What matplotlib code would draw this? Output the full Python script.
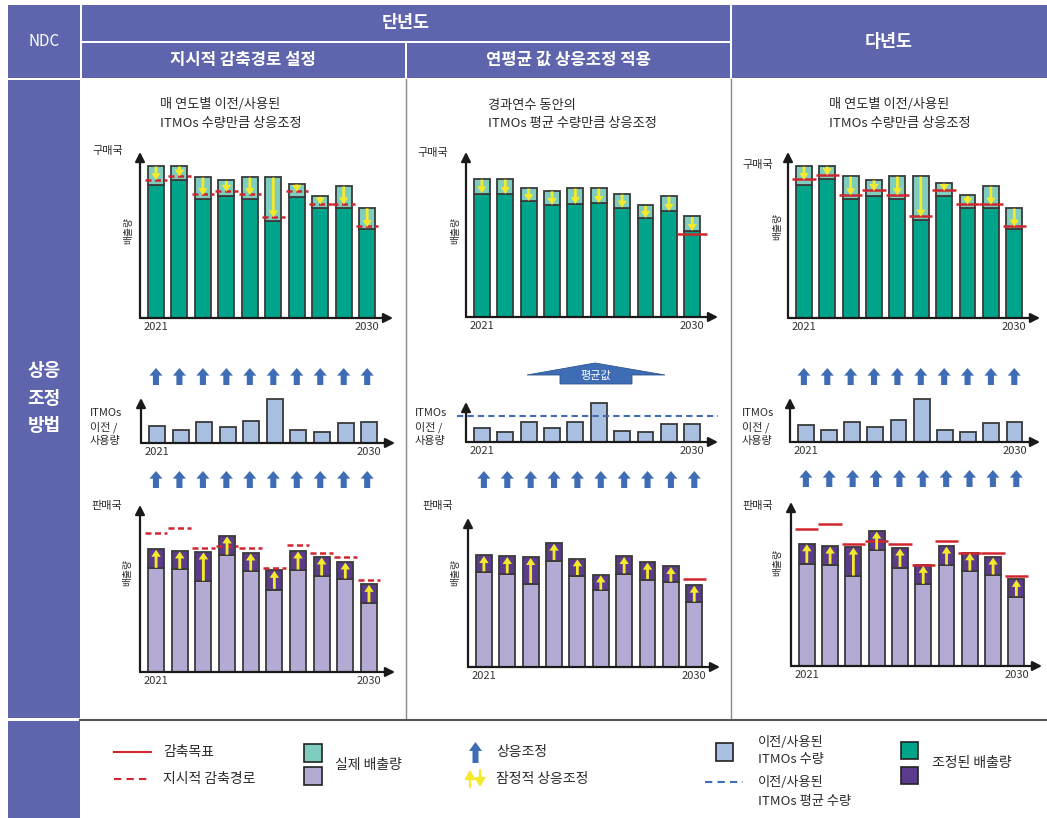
import matplotlib
matplotlib.use('Agg')
import numpy as np
import matplotlib.pyplot as plt
from matplotlib.patches import Rectangle, Polygon

plt.rcParams['font.family'] = ['Noto Sans CJK KR', 'DejaVu Sans']

# ---- data (arbitrary emission units, read per chart) ----
years = ['2021', '2030']
idx = np.arange(10)

# 단년도 / 지시적 감축경로 설정
p1_buy_actual = [458, 458, 425, 415, 425, 425, 404, 367, 398, 332]
p1_buy_adjusted = [400, 415, 359, 367, 359, 292, 365, 331, 331, 269]
p1_buy_path = [417, 428, 372, 382, 372, 305, 382, 344, 344, 276]
itmo_used = [52, 38, 62, 47, 66, 131, 38, 32, 59, 62]
p1_sell_actual = [310, 307, 271, 349, 302, 247, 305, 287, 278, 207]
p1_sell_adjusted = [368, 363, 360, 408, 357, 305, 363, 345, 330, 263]
p1_sell_path = [415, 430, 370, 378, 370, 312, 380, 355, 343, 275]

# 단년도 / 연평균 값 상응조정 적용
p2_buy_actual = [414, 414, 387, 379, 387, 387, 369, 335, 363, 302]
p2_buy_adjusted = [370, 368, 347, 335, 338, 341, 327, 296, 317, 257]
p2_buy_target_2030 = 248
p2_itmo = [44, 29, 60, 44, 60, 120, 35, 32, 56, 56]
p2_itmo_avg = 78
p2_sell_actual = [285, 279, 250, 319, 274, 230, 279, 262, 254, 194]
p2_sell_adjusted = [335, 332, 329, 372, 325, 277, 332, 315, 302, 246]
p2_sell_target_2030 = 264

# 다년도
p3_buy_actual = [456, 456, 426, 415, 426, 426, 405, 368, 396, 330]
p3_buy_adjusted = [400, 416, 358, 366, 358, 293, 365, 331, 331, 267]
p3_buy_target = [416, 430, 370, 383, 370, 306, 383, 342, 342, 276]
p3_sell_actual = [308, 305, 270, 348, 296, 245, 303, 285, 273, 208]
p3_sell_adjusted = [368, 361, 358, 406, 355, 303, 361, 341, 328, 261]
p3_sell_target = [413, 428, 368, 376, 368, 305, 376, 341, 341, 271]

# colours
HEAD = '#5F65AD'
TEAL = '#00A48B'
TEAL_L = '#7FCDBF'
PURP_L = '#B4AAD3'
PURP_D = '#5B3C8C'
ITMO = '#A9C0E2'
BLUE = '#3E6DB5'
RED = '#D0262E'
YEL = '#F4E92B'
EDGE = '#3A3A3A'
TXT = '#2a2a2a'

W, H = 1047, 818
fig = plt.figure(figsize=(W / 100, H / 100), dpi=100)

bg = fig.add_axes([0, 0, 1, 1])
bg.set_xlim(0, W)
bg.set_ylim(H, 0)
bg.axis('off')


def add_px_axes(x0, y_top, x1, y_base):
    return fig.add_axes([x0 / W, 1 - y_base / H, (x1 - x0) / W, (y_base - y_top) / H])


def rect(x0, y0, x1, y1, **kw):
    bg.add_patch(Rectangle((x0, y0), x1 - x0, y1 - y0, **kw))


def t(x, y, s, **kw):
    kw.setdefault('color', TXT)
    kw.setdefault('va', 'center')
    bg.text(x, y, s, **kw)


# ---- header and frame ----
for x0, y0, x1, y1 in [(8, 5, 80, 78), (82, 5, 730, 41), (82, 43, 405, 78),
                       (407, 43, 730, 78), (732, 5, 1047, 78),
                       (8, 80, 80, 718), (8, 721, 80, 818)]:
    rect(x0, y0, x1, y1, facecolor=HEAD, edgecolor='none')

t(44, 42, 'NDC', color='white', ha='center', fontsize=11)
t(406, 23, '단년도', color='white', ha='center', fontsize=12.5, fontweight='bold')
t(243, 60, '지시적 감축경로 설정', color='white', ha='center', fontsize=12, fontweight='bold')
t(568, 60, '연평균 값 상응조정 적용', color='white', ha='center', fontsize=12, fontweight='bold')
t(889, 42, '다년도', color='white', ha='center', fontsize=12.5, fontweight='bold')
t(44, 398, '상응\n조정\n방법', color='white', ha='center', fontsize=13,
  fontweight='bold', linespacing=1.55)

bg.plot([406, 406], [79, 719], color='#8a8a8a', lw=1)
bg.plot([731, 731], [79, 719], color='#8a8a8a', lw=1)
bg.plot([80, W], [720, 720], color='#555555', lw=1.5)

# panel titles
t(160, 105, '매 연도별 이전/사용된', fontsize=9.5)
t(160, 124, 'ITMOs 수량만큼 상응조정', fontsize=9.5)
t(488, 105, '경과연수 동안의', fontsize=9.5)
t(488, 124, 'ITMOs 평균 수량만큼 상응조정', fontsize=9.5)
t(829, 105, '매 연도별 이전/사용된', fontsize=9.5)
t(829, 124, 'ITMOs 수량만큼 상응조정', fontsize=9.5)

XL = (-0.68, 10.1)
BW = 0.68


def chart(x0, ytop, x1, ybase, ymax):
    ax = add_px_axes(x0, ytop, x1, ybase)
    ax.set_xlim(*XL)
    ax.set_ylim(0, ymax)
    for s in ax.spines.values():
        s.set_visible(False)
    ax.set_yticks([])
    ax.set_xticks([0, 9], years)
    ax.tick_params(axis='x', length=0, pad=3, labelsize=8, labelcolor='#333333')
    ax.patch.set_alpha(0)
    ap = dict(arrowstyle='-|>,head_length=0.55,head_width=0.28', color='#1a1a1a',
              lw=1.6, shrinkA=0, shrinkB=0)
    ax.annotate('', xy=(1.0, 0), xytext=(0, 0), xycoords='axes fraction', arrowprops=ap,
                annotation_clip=False)
    ax.annotate('', xy=(0, 1.0), xytext=(0, 0), xycoords='axes fraction', arrowprops=ap,
                annotation_clip=False)
    return ax


def yellow(ax, x, y0, y1, hl_px=7):
    ppu = ax.get_position().height * H / ax.get_ylim()[1]
    ax.arrow(x, y0, 0, y1 - y0, width=0.12, head_width=0.4, head_length=hl_px / ppu,
             length_includes_head=True, color=YEL, lw=0, zorder=5)


def stack(ax, low, high, c_low, c_high):
    low = np.array(low)
    high = np.array(high)
    ax.bar(idx, low, BW, color=c_low, edgecolor=EDGE, lw=1.3, zorder=2)
    ax.bar(idx, high - low, BW, bottom=low, color=c_high, edgecolor=EDGE, lw=1.3, zorder=2)


def marks(ax, vals, style, half=0.48, which=None):
    which = range(10) if which is None else which
    for i in which:
        ax.plot([i - half, i + half], [vals[i], vals[i]], color=RED, lw=1.8,
                linestyle=style, zorder=4, solid_capstyle='butt', dash_capstyle='butt')


DASH = (0, (2.4, 1.4))


def arrow_row(x0, ytop, x1, ybase, which=range(10)):
    ax = add_px_axes(x0, ytop, x1, ybase)
    ax.set_xlim(*XL)
    ax.set_ylim(0, 1)
    ax.axis('off')
    for i in which:
        ax.arrow(i, 0, 0, 1, width=0.26, head_width=0.56, head_length=0.45,
                 length_includes_head=True, color=BLUE, lw=0)


def itmo_chart(x0, ytop, x1, ybase, ymax, vals):
    ax = chart(x0, ytop, x1, ybase, ymax)
    ax.bar(idx, vals, BW, color=ITMO, edgecolor=EDGE, lw=1.3, zorder=2)
    return ax


# ---- panel 1 ----
ax = chart(140, 152, 393, 318, 500)
stack(ax, p1_buy_adjusted, p1_buy_actual, TEAL, TEAL_L)
marks(ax, p1_buy_path, DASH)
for i in idx:
    yellow(ax, i, p1_buy_actual[i] - 2, p1_buy_path[i] - 2)

arrow_row(140, 368, 393, 385)
itmo_chart(141, 398, 395, 443, 135, itmo_used)
arrow_row(140, 471, 393, 488)

ax = chart(140, 505, 395, 672, 500)
stack(ax, p1_sell_actual, p1_sell_adjusted, PURP_L, PURP_D)
marks(ax, p1_sell_path, DASH)
for i in idx:
    yellow(ax, i, p1_sell_actual[i] + 2, p1_sell_adjusted[i] - 2)

# ---- panel 2 ----
ax = chart(466, 152, 718, 317, 495)
stack(ax, p2_buy_adjusted, p2_buy_actual, TEAL, TEAL_L)
marks(ax, [0] * 9 + [p2_buy_target_2030], '-', half=0.65, which=[9])
for i in idx:
    yellow(ax, i, p2_buy_actual[i] - 2, p2_buy_adjusted[i] + 1)

bg.add_patch(Polygon([(527, 375), (595, 363), (665, 375), (632, 375), (632, 384),
                      (560, 384), (560, 375)], closed=True, facecolor=BLUE,
                     edgecolor='#2d558f', lw=0.6))
t(596, 376, '평균값', color='white', ha='center', fontsize=8)

ax = itmo_chart(466, 402, 718, 442, 122, p2_itmo)
ax.plot([-0.035, 1.0], [p2_itmo_avg, p2_itmo_avg], transform=ax.get_yaxis_transform(),
        color=BLUE, lw=1.5, linestyle=(0, (3, 2)), clip_on=False, zorder=3)
arrow_row(468, 471, 720, 488)

ax = chart(468, 518, 720, 667, 447)
stack(ax, p2_sell_actual, p2_sell_adjusted, PURP_L, PURP_D)
marks(ax, [0] * 9 + [p2_sell_target_2030], '-', half=0.5, which=[9])
for i in idx:
    yellow(ax, i, p2_sell_actual[i] + 2, p2_sell_adjusted[i] - 2)

# ---- panel 3 ----
ax = chart(788, 152, 1040, 318, 498)
stack(ax, p3_buy_adjusted, p3_buy_actual, TEAL, TEAL_L)
marks(ax, p3_buy_target, '-', half=0.5)
for i in idx:
    yellow(ax, i, p3_buy_actual[i] - 2, p3_buy_target[i] - 2)

arrow_row(788, 368, 1040, 385)
itmo_chart(790, 398, 1040, 442, 135, itmo_used)
arrow_row(790, 470, 1042, 487)

ax = chart(791, 502, 1042, 666, 493)
stack(ax, p3_sell_actual, p3_sell_adjusted, PURP_L, PURP_D)
marks(ax, p3_sell_target, '-', half=0.5)
for i in idx:
    yellow(ax, i, p3_sell_actual[i] + 2, p3_sell_adjusted[i] - 2)

# ---- axis captions ----
for x, y in [(108, 151), (433, 153), (758, 165)]:
    t(x, y, '구매국', ha='center', fontsize=8)
for x, y in [(107, 506), (438, 506), (758, 506)]:
    t(x, y, '판매국', ha='center', fontsize=8)
for x, y in [(128, 230), (455, 230), (777, 227), (127, 572), (455, 573), (777, 562)]:
    t(x, y, '배출량', ha='center', fontsize=7, rotation=90)
for x in (90, 415, 742):
    t(x, 413, 'ITMOs', fontsize=8)
    t(x, 427, '이전 /', fontsize=8)
    t(x, 441, '사용량', fontsize=8)

# ---- legend ----
bg.plot([114, 151], [752, 752], color=RED, lw=1.5)
t(163, 752, '감축목표', fontsize=10)
bg.plot([114, 151], [779, 779], color=RED, lw=1.5, linestyle=(0, (3.5, 2.5)))
t(163, 779, '지시적 감축경로', fontsize=10)

rect(304, 744, 322, 762, facecolor=TEAL_L, edgecolor='#222222', lw=1.2)
rect(304, 767, 322, 785, facecolor=PURP_L, edgecolor='#222222', lw=1.2)
t(335, 765, '실제 배출량', fontsize=10)

bg.add_patch(Polygon([(469, 751), (475.5, 742), (482, 751), (478.5, 751), (478.5, 763),
                      (472.5, 763), (472.5, 751)], closed=True, facecolor=BLUE,
                     edgecolor='none'))
t(496, 752, '상응조정', fontsize=10)
bg.annotate('', xy=(470, 770), xytext=(470, 787),
            arrowprops=dict(arrowstyle='-|>,head_length=0.5,head_width=0.3', color=YEL,
                            lw=1.6, shrinkA=0, shrinkB=0))
bg.annotate('', xy=(480, 787), xytext=(480, 770),
            arrowprops=dict(arrowstyle='-|>,head_length=0.5,head_width=0.3', color=YEL,
                            lw=1.6, shrinkA=0, shrinkB=0))
t(496, 779, '잠정적 상응조정', fontsize=10)

rect(716, 743, 733, 761, facecolor=ITMO, edgecolor='#222222', lw=1.2)
t(758, 742, '이전/사용된', fontsize=9.5)
t(758, 760, 'ITMOs 수량', fontsize=9.5)
bg.plot([705, 743], [782, 782], color=BLUE, lw=1.5, linestyle=(0, (3.5, 2.5)))
t(758, 783, '이전/사용된', fontsize=9.5)
t(758, 801, 'ITMOs 평균 수량', fontsize=9.5)

rect(901, 742, 918, 759, facecolor=TEAL, edgecolor='#222222', lw=1.2)
rect(901, 767, 918, 784, facecolor=PURP_D, edgecolor='#222222', lw=1.2)
t(932, 763, '조정된 배출량', fontsize=10)

fig.savefig('out.png', dpi=100)
